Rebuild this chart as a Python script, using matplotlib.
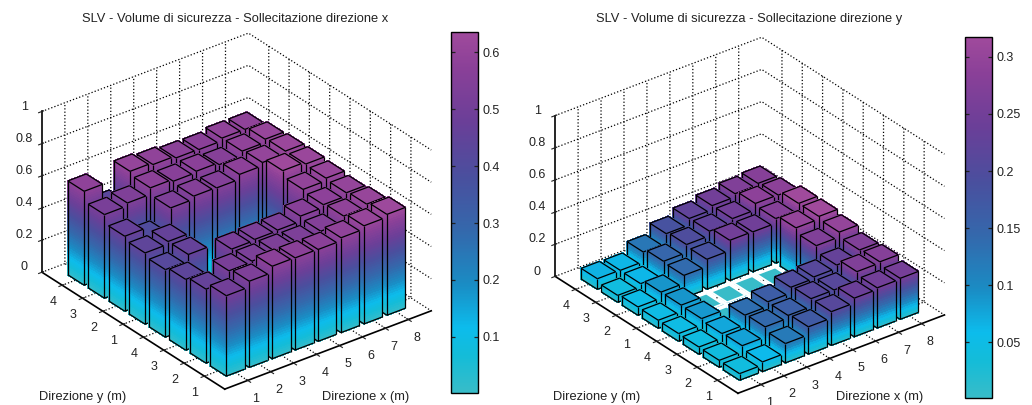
import matplotlib
matplotlib.use('Agg')
import matplotlib.pyplot as plt
import numpy as np
from matplotlib.colors import LinearSegmentedColormap, Normalize
from matplotlib.cm import ScalarMappable
from mpl_toolkits.mplot3d.art3d import Poly3DCollection, Line3DCollection

plt.rcParams['font.family'] = ['Liberation Sans', 'DejaVu Sans']

# rows are y positions 1..8 (front to back), columns x positions 1..8
heights_x = [
    [.50, .536, .575, .573, .571, .59, .61, .627],
    [.46, .52, .526, .534, .532, .55, .59, .61],
    [.44, .30, .52, .526, .53, .563, .58, .60],
    [.42, .46, 0, 0, 0, 0, .594, .61],
    [.443, .46, 0, 0, 0, 0, .63, .617],
    [.466, .40, .534, .553, .55, .58, .60, .617],
    [.52, .538, .578, .565, .573, .56, .59, .61],
    [.584, .43, .60, .588, .575, .573, .59, .59],
]
heights_y = [
    [.041, .06, .12, .17, .21, .24, .25, .255],
    [.043, .08, .143, .16, .21, .21, .27, .277],
    [.045, .075, .135, .164, .20, .21, .23, .27],
    [.048, .087, 0, 0, 0, 0, .27, .30],
    [.05, .09, 0, 0, 0, 0, .30, .317],
    [.052, .09, .14, .186, .25, .248, .277, .317],
    [.043, .062, .147, .197, .226, .25, .29, .288],
    [.066, .064, .124, .184, .224, .25, .27, .28],
]
x_ticks = [1, 2, 3, 4, 5, 6, 7, 8]
y_tick_labels = ['1', '2', '3', '4', '1', '2', '3', '4']
z_ticks = [0, .2, .4, .6, .8, 1]
z_tick_labels = ['0', '0.2', '0.4', '0.6', '0.8', '1']
cbar_x_ticks = [.1, .2, .3, .4, .5, .6]
cbar_x_labels = ['0.1', '0.2', '0.3', '0.4', '0.5', '0.6']
cbar_y_ticks = [.05, .1, .15, .2, .25, .3]
cbar_y_labels = ['0.05', '0.1', '0.15', '0.2', '0.25', '0.3']

cmap = LinearSegmentedColormap.from_list('vol', [
    (0, '#38bcc8'), (.1, '#14bcd8'), (.18, '#0cbcec'), (.3, '#1a8cc4'),
    (.45, '#3468ac'), (.6, '#4a4f9e'), (.75, '#6a3f98'), (.9, '#8a4098'), (1, '#a04a9c')])

fig = plt.figure(figsize=(10.32, 4.05), dpi=100)


def draw_bars(ax, heights, norm):
    hw = .4
    order = sorted(((i, j) for i in range(8) for j in range(8)), key=lambda p: -(p[0] + p[1]))
    for k, (i, j) in enumerate(order):
        h = heights[j][i]
        x0, x1 = i + 1 - hw, i + 1 + hw
        y0, y1 = j + 1 - hw, j + 1 + hw
        polys, cols = [], []
        if h > 0:
            edges = np.arange(0, h + .015, .015)
            edges[-1] = h
            for a, b in zip(edges[:-1], edges[1:]):
                c = cmap(norm((a + b) / 2))
                polys.append([(x0, y0, a), (x1, y0, a), (x1, y0, b), (x0, y0, b)])
                cols.append(c)
                polys.append([(x0, y0, a), (x0, y1, a), (x0, y1, b), (x0, y0, b)])
                cols.append(c)
        polys.append([(x0, y0, h), (x1, y0, h), (x1, y1, h), (x0, y1, h)])
        cols.append(cmap(norm(h)))
        pc = Poly3DCollection(polys, facecolors=cols, edgecolors=cols, linewidths=.6, antialiaseds=False)
        pc.set_zorder(10 + 2 * k)
        ax.add_collection3d(pc)
        top = [(x0, y0, h), (x1, y0, h), (x1, y1, h), (x0, y1, h), (x0, y0, h)]
        segs = [top[m:m + 2] for m in range(4)]
        if h > 0:
            segs += [[(x0, y0, 0), (x0, y0, h)], [(x1, y0, 0), (x1, y0, h)], [(x0, y1, 0), (x0, y1, h)],
                     [(x0, y0, 0), (x1, y0, 0)], [(x0, y0, 0), (x0, y1, 0)]]
        lc = Line3DCollection(segs, colors='k' if h > 0 else 'white', linewidths=.9 if h > 0 else 1.3)
        lc.set_zorder(11 + 2 * k)
        ax.add_collection3d(lc)


def panel(pos, heights, norm, title, title_x):
    ax = fig.add_axes(pos, projection='3d', proj_type='ortho', computed_zorder=False)
    ax.set_facecolor('none')
    ax.view_init(elev=29.5, azim=-127.6)
    ax.set_box_aspect((261, 300, 185), zoom=.905)
    ax.set_xlim(0, 9)
    ax.set_ylim(0, 9)
    ax.set_zlim(0, 1)
    draw_bars(ax, heights, norm)
    ax.set_xticks(x_ticks)
    ax.set_yticks(x_ticks)
    ax.set_yticklabels(y_tick_labels)
    ax.set_zticks(z_ticks)
    ax.set_zticklabels(z_tick_labels, va='baseline')
    ax.tick_params(labelsize=9, pad=0, colors='#222222')
    for axis in (ax.xaxis, ax.yaxis, ax.zaxis):
        axis.set_pane_color((1, 1, 1, 0))
        axis.pane.set_edgecolor('none')
        axis._axinfo['grid'].update(color='k', linestyle=':', linewidth=.9)
        axis.line.set_linewidth(1.2)
    fig.text(title_x, 1 - 19 / 405, title, fontsize=9.3, ha='center', va='center', color='#222222')
    return ax


norm_x = Normalize(.001, .636)
norm_y = Normalize(.001, .3175)
ax1 = panel([-.0269, -.117, .5, 1.16], heights_x, norm_x,
            'SLV - Volume di sicurezza - Sollecitazione direzione x', 235.5 / 1032)
ax2 = panel([.4704, -.1272, .5, 1.16], heights_y, norm_y,
            'SLV - Volume di sicurezza - Sollecitazione direzione y', 749.5 / 1032)

for tx, txt in ((83, 'Direzione y (m)'), (366, 'Direzione x (m)'), (597, 'Direzione y (m)'), (880, 'Direzione x (m)')):
    fig.text(tx / 1032, 1 - 397 / 405, txt, fontsize=9.3, ha='center', va='center', color='#222222')

cax1 = fig.add_axes([451 / 1032, 1 - 393 / 405, 27 / 1032, 361 / 405])
cb1 = fig.colorbar(ScalarMappable(norm_x, cmap), cax=cax1)
cb1.set_ticks(cbar_x_ticks, labels=cbar_x_labels)
cax2 = fig.add_axes([965 / 1032, 1 - 398 / 405, 27 / 1032, 361 / 405])
cb2 = fig.colorbar(ScalarMappable(norm_y, cmap), cax=cax2)
cb2.set_ticks(cbar_y_ticks, labels=cbar_y_labels)
for cb in (cb1, cb2):
    cb.ax.tick_params(direction='in', length=3, width=.9, labelsize=9, left=True, right=True, pad=3, colors='#222222')
    cb.outline.set_linewidth(1)

fig.savefig('out.png', dpi=100)
